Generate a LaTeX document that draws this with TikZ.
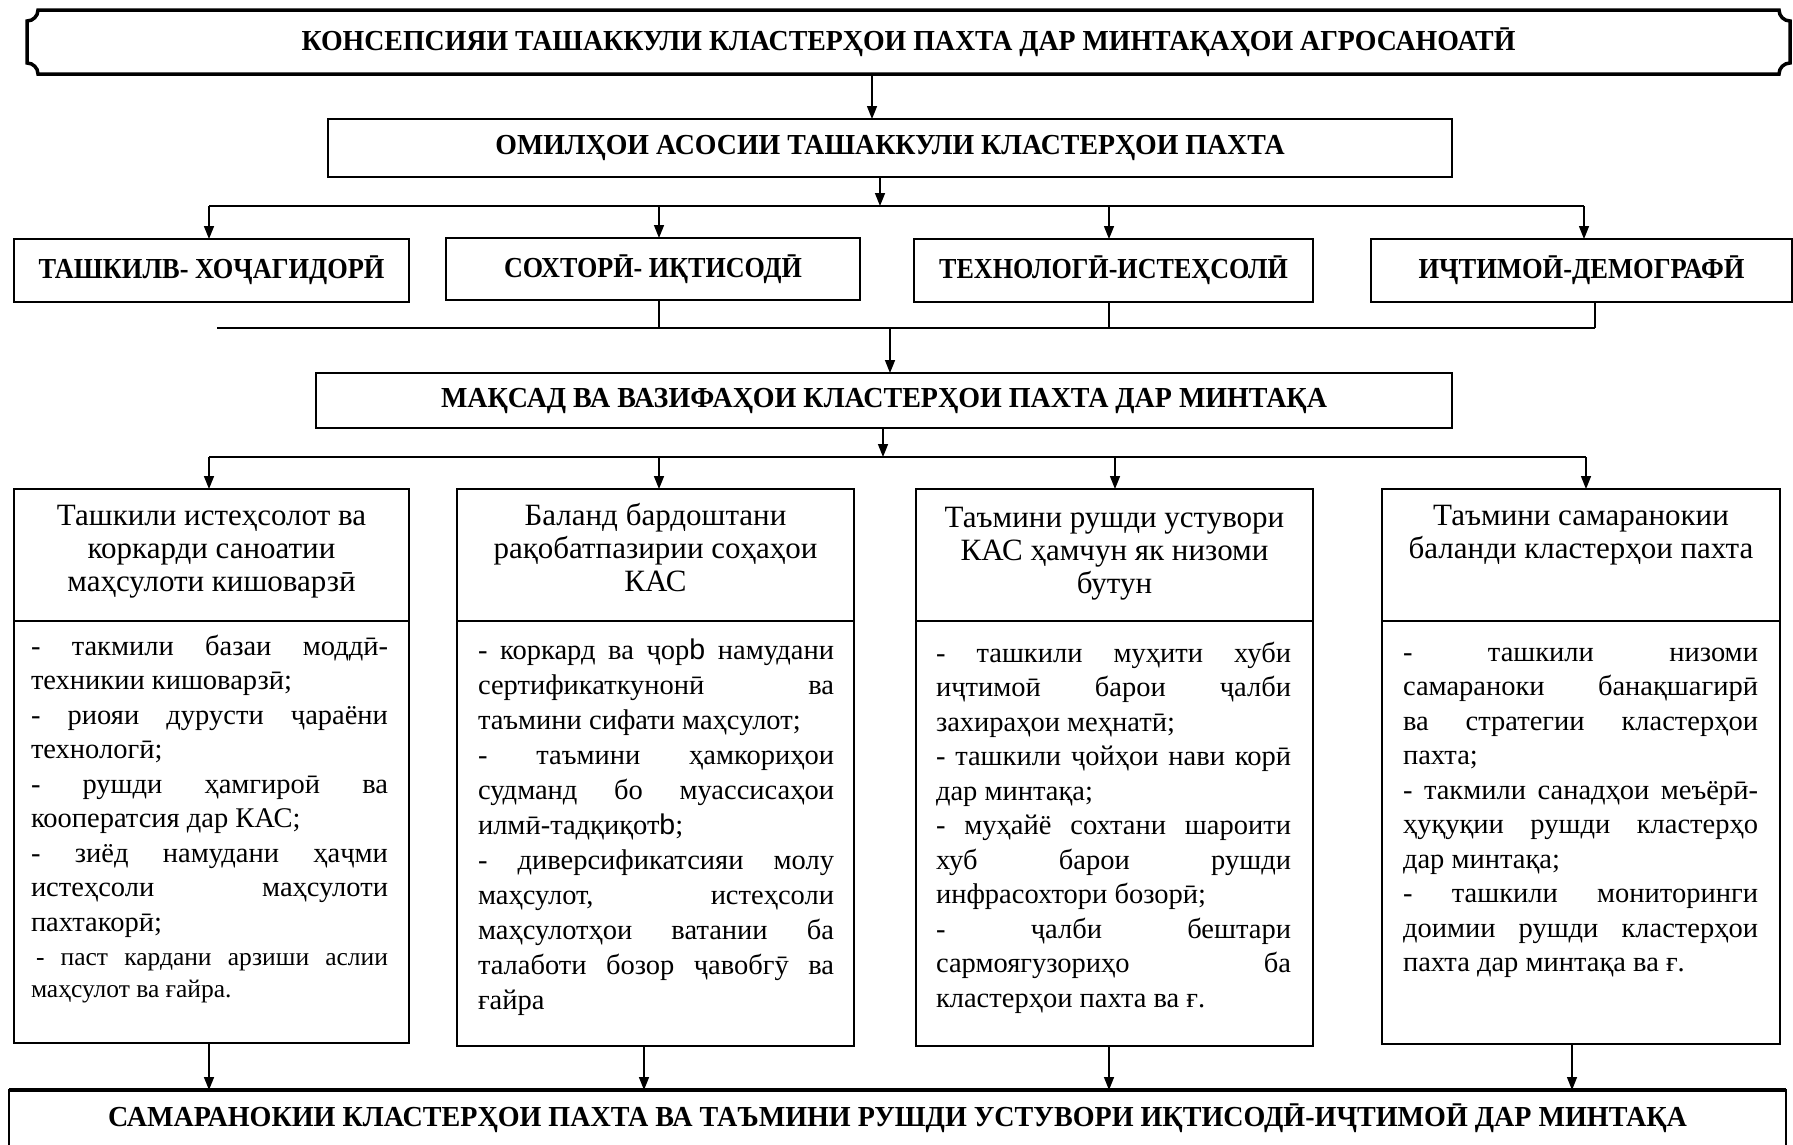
\documentclass[tikz,border=0pt]{standalone}
\usepackage{fontspec}
\usepackage{graphicx}
\setmainfont{Liberation Serif}
\newfontfamily\sansb{Liberation Sans}
\usetikzlibrary{arrows.meta}
\newcommand\jl[1]{\makebox[\linewidth][s]{#1}}
\newcommand\sq[2]{\scalebox{#1}[1]{#2}}
\newcommand\capsf{\bfseries\fontsize{29}{33}\selectfont}
\newcommand\headf{\fontsize{31}{33}\selectfont}
\newcommand\bodyf{\fontsize{28.5}{34.5}\selectfont}
\newcommand\bodyg{\fontsize{28.5}{35}\selectfont}
\newcommand\smallf{\fontsize{25.5}{32}\selectfont}
\begin{document}
\begin{tikzpicture}[x=1pt,y=-1pt,
  bx/.style={draw, line width=2.2pt, inner sep=0pt, outer sep=0pt},
  ln/.style={line width=1.5pt},
  arr/.style={line width=1.5pt, -{Triangle[length=13pt,width=10pt]}},
  txt/.style={inner sep=0pt, outer sep=0pt},
]
\useasboundingbox (0,0) rectangle (1793,1144);

% title plaque
\node[txt, minimum width=1763pt, minimum height=64pt, font=\capsf] (title) at (908.5,42) {\sq{0.96}{КОНСЕПСИЯИ ТАШАККУЛИ КЛАСТЕРҲОИ ПАХТА ДАР МИНТАҚАҲОИ АГРОСАНОАТӢ}};
\draw[line width=3.5pt] (38,10) -- (1779,10) arc[start angle=180, end angle=90, radius=11]
  -- (1790,63) arc[start angle=270, end angle=180, radius=11]
  -- (38,74) arc[start angle=0, end angle=-90, radius=11]
  -- (27,21) arc[start angle=90, end angle=0, radius=11] -- cycle;

% factors
\node[bx, minimum width=1124pt, minimum height=58pt, font=\capsf] (omil) at (890,148) {\sq{0.96}{ОМИЛҲОИ АСОСИИ ТАШАККУЛИ КЛАСТЕРҲОИ ПАХТА}};
\node[bx, minimum width=395pt, minimum height=63pt, font=\capsf] (fA) at (211.5,270.5) {\sq{0.91}{ТАШКИЛВ- ХОҶАГИДОРӢ}};
\node[bx, minimum width=414pt, minimum height=62pt, font=\capsf] (fB) at (653,269) {\raisebox{3pt}{\sq{0.9}{СОХТОРӢ- ИҚТИСОДӢ}}};
\node[bx, minimum width=399pt, minimum height=63pt, font=\capsf] (fC) at (1113.5,270.5) {\sq{0.9}{ТЕХНОЛОГӢ-ИСТЕҲСОЛӢ}};
\node[bx, minimum width=421pt, minimum height=63pt, font=\capsf] (fD) at (1581.5,270.5) {\sq{0.915}{ИҶТИМОӢ-ДЕМОГРАФӢ}};

\node[bx, minimum width=1136pt, minimum height=55pt, font=\capsf] (maq) at (884,400.5) {\sq{0.965}{МАҚСАД ВА ВАЗИФАҲОИ КЛАСТЕРҲОИ ПАХТА ДАР МИНТАҚА}};

% goal headings
\node[bx, minimum width=395pt, minimum height=132pt] (h1) at (211.5,555) {};
\node[bx, minimum width=397pt, minimum height=132pt] (h2) at (655.5,555) {};
\node[bx, minimum width=397pt, minimum height=132pt] (h3) at (1114.5,555) {};
\node[bx, minimum width=398pt, minimum height=132pt] (h4) at (1581,555) {};
\node[txt, anchor=base] (h1t) at (h1.north |- 0,525) {\parbox[t]{390pt}{\centering\headf Ташкили истеҳсолот ва\\коркарди саноатии\\маҳсулоти кишоварзӣ}};
\node[txt, anchor=base] (h2t) at (h2.north |- 0,525) {\parbox[t]{390pt}{\centering\headf Баланд бардоштани\\рақобатпазирии соҳаҳои\\КАС}};
\node[txt, anchor=base] (h3t) at (h3.north |- 0,527) {\parbox[t]{390pt}{\centering\headf Таъмини рушди устувори\\КАС ҳамчун як низоми\\бутун}};
\node[txt, anchor=base] (h4t) at (h4.north |- 0,525) {\parbox[t]{390pt}{\centering\headf Таъмини самаранокии\\баланди кластерҳои пахта}};

% goal contents
\node[bx, minimum width=395pt, minimum height=422pt] (c1) at (211.5,832) {};
\node[bx, minimum width=397pt, minimum height=425pt] (c2) at (655.5,833.5) {};
\node[bx, minimum width=397pt, minimum height=425pt] (c3) at (1114.5,833.5) {};
\node[bx, minimum width=398pt, minimum height=423pt] (c4) at (1581,832.5) {};

\node[txt, anchor=base west] (c1t) at (31,655) {\parbox[t]{357pt}{\bodyf
\jl{- такмили базаи моддӣ-}\\
техникии кишоварзӣ;\\
\jl{- риояи дурусти ҷараёни}\\
технологӣ;\\
\jl{- рушди ҳамгироӣ ва}\\
кооператсия дар КАС;\\
\jl{- зиёд намудани ҳаҷми}\\
\jl{истеҳсоли маҳсулоти}\\
пахтакорӣ;\par
\smallf\vspace{2pt}
\jl{\hspace{5pt}- паст кардани арзиши аслии}\\
маҳсулот ва ғайра.\par}};

\node[txt, anchor=base west] (c2t) at (478,659) {\parbox[t]{356pt}{\bodyg
\jl{- коркард ва ҷор{\sansb b} намудани}\\
\jl{сертификаткунонӣ ва}\\
таъмини сифати маҳсулот;\\
\jl{- таъмини ҳамкориҳои}\\
\jl{судманд бо муассисаҳои}\\
илмӣ-тадқиқот{\sansb b};\\
\jl{- диверсификатсияи молу}\\
\jl{маҳсулот, истеҳсоли}\\
\jl{маҳсулотҳои ватании ба}\\
\jl{талаботи бозор ҷавобгӯ ва}\\
ғайра\par}};

\node[txt, anchor=base west] (c3t) at (936,662) {\parbox[t]{355pt}{\bodyf
\jl{- ташкили муҳити хуби}\\
\jl{иҷтимоӣ барои ҷалби}\\
захираҳои меҳнатӣ;\\
\jl{- ташкили ҷойҳои нави корӣ}\\
дар минтақа;\\
\jl{- муҳайё сохтани шароити}\\
\jl{хуб барои рушди}\\
инфрасохтори бозорӣ;\\
\jl{- ҷалби бештари}\\
\jl{сармоягузориҳо ба}\\
кластерҳои пахта ва ғ.\par}};

\node[txt, anchor=base west] (c4t) at (1403,661) {\parbox[t]{355pt}{\bodyf
\jl{- ташкили низоми}\\
\jl{самараноки банақшагирӣ}\\
\jl{ва стратегии кластерҳои}\\
пахта;\\
\jl{- такмили санадҳои меъёрӣ-}\\
\jl{ҳуқуқии рушди кластерҳо}\\
дар минтақа;\\
\jl{- ташкили мониторинги}\\
\jl{доимии рушди кластерҳои}\\
пахта дар минтақа ва ғ.\par}};

% result
\node[bx, minimum width=1777pt, minimum height=56pt, font=\capsf] (res) at (897.5,1118) {\sq{0.968}{САМАРАНОКИИ КЛАСТЕРҲОИ ПАХТА ВА ТАЪМИНИ РУШДИ УСТУВОРИ ИҚТИСОДӢ-ИҶТИМОӢ ДАР МИНТАҚА}};
\draw[line width=4.5pt] (res.north west) -- (res.north east);

% connectors
\coordinate (t1) at (872,0);
\draw[arr] (title.south -| t1) -- (omil.north -| t1);

\coordinate (j1m) at (880,206);
\coordinate (j1a) at (209,206);
\coordinate (j1b) at (659,206);
\coordinate (j1c) at (1109,206);
\coordinate (j1d) at (1584,206);
\draw[arr] (omil.south -| j1m) -- (j1m);
\draw[ln] (j1a) -- (j1d);
\draw[arr] (j1a) -- (j1a |- fA.north);
\draw[arr] (j1b) -- (j1b |- fB.north);
\draw[arr] (j1c) -- (j1c |- fC.north);
\draw[arr] (j1d) -- (j1d |- fD.north);

\coordinate (j2a) at (217,328);
\coordinate (j2b) at (659,328);
\coordinate (j2c) at (1109,328);
\coordinate (j2d) at (1595,328);
\coordinate (j2m) at (890,328);
\draw[ln] (fB.south -| j2b) -- (j2b);
\draw[ln] (fC.south -| j2c) -- (j2c);
\draw[ln] (fD.south -| j2d) -- (j2d);
\draw[ln] (j2a) -- (j2d);
\draw[arr] (j2m) -- (j2m |- maq.north);

\coordinate (j3m) at (883,457);
\coordinate (j3a) at (209,457);
\coordinate (j3b) at (659,457);
\coordinate (j3c) at (1115,457);
\coordinate (j3d) at (1586,457);
\draw[arr] (maq.south -| j3m) -- (j3m);
\draw[ln] (j3a) -- (j3d);
\draw[arr] (j3a) -- (j3a |- h1.north);
\draw[arr] (j3b) -- (j3b |- h2.north);
\draw[arr] (j3c) -- (j3c |- h3.north);
\draw[arr] (j3d) -- (j3d |- h4.north);

\coordinate (k1) at (209,0);
\coordinate (k2) at (644,0);
\coordinate (k3) at (1109,0);
\coordinate (k4) at (1572,0);
\draw[arr] (c1.south -| k1) -- (k1 |- res.north);
\draw[arr] (c2.south -| k2) -- (k2 |- res.north);
\draw[arr] (c3.south -| k3) -- (k3 |- res.north);
\draw[arr] (c4.south -| k4) -- (k4 |- res.north);
\end{tikzpicture}
\end{document}
